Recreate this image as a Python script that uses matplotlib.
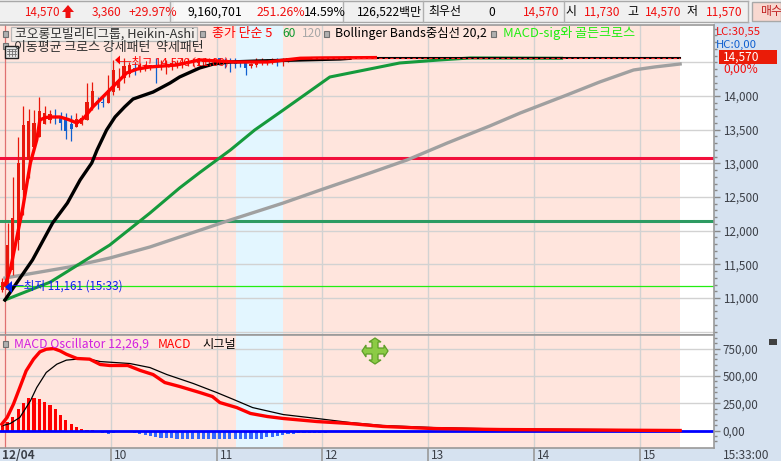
import numpy as np
import matplotlib
matplotlib.use("Agg")
import matplotlib.pyplot as plt
from matplotlib.patches import Rectangle, Polygon
from matplotlib.transforms import ScaledTranslation

plt.rcParams['font.family'] = ['Noto Sans CJK KR', 'DejaVu Sans']

W, H = 781, 461

# ---------- data (time in hours of the day) ----------
candle_high = [11300,12110,12800,13390,13850,13810,13790,13990,13850,13790,13810,13760,13750,13720,13750,13720,14190,14210,13990,13990,14310,14530,14420,14570,14500,14490,14490,14480,14460,14570,14530,14530,14530,14530,14560,14560,14570,14560,14560,14560,14560,14570,14570,14560,14560,14530,14500,14490,14560,14560,14550,14560,14560,14560,14570]
candle_low  = [11090,11120,11340,11710,12230,12780,13240,13390,13580,13600,13580,13500,13360,13330,13540,13570,13640,13790,13810,13840,13900,14010,14090,14190,14280,14310,14360,14370,14390,14190,14390,14330,14390,14420,14420,14450,14450,14460,14460,14480,14480,14460,14420,14360,14420,14430,14310,14420,14430,14460,14460,14480,14450,14450,14500]
candle_top  = [11240,11790,12190,13000,13570,13630,13600,13780,13750,13730,13690,13690,13660,13580,13660,13670,13910,14070,13930,13910,14090,14390,14190,14450,14460,14420,14460,14460,14460,14460,14460,14460,14490,14490,14500,14520,14530,14530,14530,14530,14530,14560,14530,14530,14500,14500,14490,14480,14500,14520,14530,14530,14530,14550,14560]
candle_bot  = [11120,11120,11420,11860,12600,13050,13240,13390,13580,13640,13670,13600,13480,13510,13540,13580,13640,13840,13900,13900,13900,14060,14120,14270,14330,14390,14420,14420,14420,14430,14430,14430,14450,14450,14460,14480,14490,14490,14500,14500,14500,14500,14500,14490,14480,14490,14420,14450,14460,14490,14490,14500,14520,14500,14530]
candle_up   = [1,1,1,1,1,1,1,1,1,1,0,0,0,0,1,1,1,1,0,0,1,1,1,1,1,0,1,1,1,0,1,1,1,1,1,1,1,1,1,1,1,0,0,0,0,0,0,1,1,1,1,1,0,1,1]

ma5_t = [9.0,9.05,9.17,9.24,9.30,9.33,9.38,9.43,9.52,9.60,9.68,9.75,9.83,9.99,10.15,10.25,10.37,10.62,10.84,11.16,11.48,11.79,12.0,12.5]
ma5_v = [11193,11416,12352,13005,13347,13644,13680,13688,13688,13650,13599,13680,13837,14089,14342,14400,14431,14460,14535,14505,14505,14560,14565,14570]

ma60_t = [9.0,9.11,9.26,9.45,9.59,9.71,9.82,9.87,9.96,10.04,10.13,10.21,10.40,10.56,10.65,10.84,10.97,11.13,11.41,11.79,12.17,12.26]
ma60_v = [10971,11223,11565,12114,12411,12753,13005,13198,13495,13688,13837,13955,14059,14193,14282,14416,14475,14505,14520,14535,14550,14560]

close_t = [11.9,15.38]
close_v = [14570,14570]

green_t = [9.0,9.43,9.99,10.37,10.65,10.84,11.13,11.36,11.63,12.07,12.73,13.11,13.40,14.26]
green_v = [10971,11238,11787,12262,12634,12863,13198,13495,13792,14282,14490,14535,14565,14560]

gray_t = [9.0,9.61,9.99,10.37,11.13,11.63,11.98,12.45,12.80,13.18,13.58,13.87,14.31,14.62,14.94,15.14,15.38]
gray_v = [11297,11461,11594,11758,12159,12411,12604,12857,13050,13302,13554,13748,14015,14208,14386,14431,14475]

level_red = 13079
level_green = 12144
level_low = 11178

macd_t = [8.97,9.02,9.08,9.14,9.20,9.27,9.33,9.39,9.46,9.52,9.58,9.68,9.80,9.90,9.99,10.16,10.28,10.40,10.51,10.65,10.84,10.96,11.03,11.19,11.32,11.48,11.63,11.95,12.26,12.57,13.05,13.68,15.38]
macd_v = [58,119,241,393,546,653,720,744,750,729,698,659,653,604,595,595,549,512,439,403,348,311,256,210,156,128,110,82,64,37,18,9,0]

signal_t = [8.97,9.05,9.14,9.24,9.30,9.39,9.49,9.58,9.68,9.80,9.90,10.18,10.37,10.53,10.78,11.00,11.16,11.34,11.63,11.95,12.26,12.57,13.05,13.68,15.38]
signal_v = [43,64,119,271,393,531,607,644,653,653,631,613,576,512,430,348,284,210,146,110,73,46,27,14,5]

osc_v = [37,79,128,195,256,293,293,287,262,232,195,140,98,58,34,18,9,6,
         -3,-27,-34,-24,-12,-12,-18,-24,-34,-43,-49,-58,-67,-70,-73,-76,-76,-76,-76,-76,-76,-76,-76,-76,-79,-79,-79,-76,-79,-79,-79,-76,
         -61,-55,-46,-40,-34,-30,-25,-24,-22,-21,-20,-19,-18,-17,-16,-15,-14,-12,-11,-9,-7,-6,-5,-4,-3,-3,-2]

main_ticks = [11000,11500,12000,12500,13000,13500,14000]
main_labels = ['11,000','11,500','12,000','12,500','13,000','13,500','14,000']
macd_ticks = [0,250,500,750]
macd_labels = ['0,00','250,00','500,00','750,00']
hour_ticks = [9,10,11,12,13,14,15]
hour_labels = ['12/04','10','11','12','13','14','15']

# ---------- colours ----------
PINK = '#FFE5DD'; SKY = '#E3F6FF'; PANEL = '#D6E2F0'; GRID = '#D2D2D2'; AXC = '#999999'
TXT = '#3C4048'; RED = '#FF0000'; CRED = '#E8180C'; CBLUE = '#1060D0'

fig = plt.figure(figsize=(W/100, H/100), dpi=100, facecolor='white')

def box(x0, y0, x1, y1):
    return [x0/W, 1-y1/H, (x1-x0)/W, (y1-y0)/H]

# background panels behind the plotting axes
bg = fig.add_axes([0, 0, 1, 1], zorder=0)
bg.set_xlim(0, W); bg.set_ylim(H, 0); bg.axis('off')
bg.add_patch(Rectangle((714, 22), 67, 439, color=PANEL, lw=0))
bg.add_patch(Rectangle((0, 448), 781, 13, color=PANEL, lw=0))
bg.add_patch(Rectangle((0, 0), 781, 22, color='#F0F0F0', lw=0))

XLIM = (8.953, 15.70)
ax = fig.add_axes(box(0, 25, 714, 335), zorder=1)
ax2 = fig.add_axes(box(0, 335, 714, 448), zorder=1)

for a in (ax, ax2):
    a.set_xlim(*XLIM)
    a.set_facecolor('white')
    a.axvspan(XLIM[0], 15.38, color=PINK, lw=0, zorder=0)
    a.axvspan(11.18, 11.63, color=SKY, lw=0, zorder=0.1)
    for h in hour_ticks[1:]:
        a.axvline(h, color=GRID, lw=1.0, zorder=0.5)
    a.axvline(9.0, color='#E07070', lw=0.9, zorder=0.6)
    a.yaxis.tick_right()
    a.tick_params(axis='y', which='major', direction='out', length=4.3, width=1, color='#888888',
                  labelcolor=TXT, labelsize=8.4, pad=2)
    a.tick_params(axis='y', which='minor', direction='out', length=2.2, width=1, color='#888888')
    for s in a.spines.values():
        s.set_color(AXC); s.set_linewidth(1.2)
    a.spines['left'].set_visible(False)

# ---------- main pane ----------
ax.set_ylim(10451, 15054)
ax.set_yticks(main_ticks)
ax.set_yticklabels(main_labels)
ax.set_yticks(np.arange(10500, 15001, 100), minor=True)
ax.set_xticks([])
for v in main_ticks + [14500, 10500]:
    ax.axhline(v, color=GRID, lw=1.0, zorder=0.5)

ax.axhline(level_low, color='#22EE11', lw=0.9, zorder=1)
ax.axhline(level_red, color='#F2103C', lw=2.2, zorder=1.2)
ax.axhline(level_green, color='#2E9B62', lw=2.2, zorder=1.2)

ax.plot(gray_t, gray_v, color='#A0A0A0', lw=2.4, zorder=2)
ax.plot(green_t, green_v, color='#159A3C', lw=2.2, zorder=2.1)

candle_t = 8.975 + 0.05*np.arange(len(candle_high))
up = np.array(candle_up, bool)
ccol = [CRED if u else CBLUE for u in up]
ax.vlines(candle_t, candle_low, candle_high, colors=ccol, lw=0.9, zorder=3)
ax.bar(candle_t, np.array(candle_top)-np.array(candle_bot), bottom=candle_bot,
       width=0.03, color=ccol, lw=0, zorder=3)

ax.plot(ma60_t, ma60_v, color='black', lw=2.4, zorder=4)
ax.plot(close_t, close_v, color='black', lw=1.5, zorder=4)
ax.plot(ma5_t, ma5_v, color=RED, lw=2.4, zorder=5)
ax.plot(close_t, close_v, color='#FF2020', lw=0.8, ls=(0, (3, 2)), zorder=5)

# ---------- MACD pane ----------
ax2.set_ylim(-160, 874)
ax2.set_yticks(macd_ticks)
ax2.set_yticklabels(macd_labels)
ax2.set_yticks(np.arange(-100, 851, 50), minor=True)
for v in macd_ticks[1:]:
    ax2.axhline(v, color=GRID, lw=1.0, zorder=0.5)

osc_t = 8.975 + 0.05*np.arange(len(osc_v))
osc = np.array(osc_v)
ax2.bar(osc_t, osc, width=0.03, color=[RED if v > 0 else '#3366FF' for v in osc], lw=0, zorder=2)
ax2.axhline(0, color='#0000FF', lw=2.0, zorder=2.5)
ax2.plot(signal_t, signal_v, color='black', lw=0.9, zorder=3)
ax2.plot(macd_t, macd_v, color=RED, lw=2.4, zorder=3.5)

ax2.set_xticks(hour_ticks)
ax2.set_xticklabels(hour_labels, ha='left', fontsize=8.6, color=TXT)
ax2.tick_params(axis='x', direction='out', length=9.4, width=1.2, color=AXC, pad=-8.9)
ax2.xaxis.get_major_ticks()[0].tick1line.set_visible(False)
off = ScaledTranslation(3/100, 0, fig.dpi_scale_trans)
for lab in ax2.get_xticklabels():
    lab.set_transform(lab.get_transform() + off)
first = ax2.get_xticklabels()[0]
first.set_fontweight('bold')
first.set_transform(first.get_transform() + ScaledTranslation(-6/100, 0, fig.dpi_scale_trans))

# ---------- overlay: header, legends, annotations ----------
ov = fig.add_axes([0, 0, 1, 1], zorder=5)
ov.set_xlim(0, W); ov.set_ylim(H, 0); ov.axis('off'); ov.patch.set_alpha(0)

def t(x, y, s, c='black', fs=9.0, ha='left', **kw):
    ov.text(x, y, s, color=c, fontsize=fs, ha=ha, va='center', **kw)

# header strip
ov.plot([0, 748], [1, 1], color='#A8A8A8', lw=1)
ov.plot([0, 748], [22, 22], color='#A8A8A8', lw=1)
for x in [170, 343, 423, 564, 748]:
    ov.plot([x, x], [1, 22], color='#B0B0B0', lw=1)
ov.add_patch(Rectangle((752, 2), 29, 19, fc='#F8D8D0', ec='#A8A8A8', lw=1))
ov.add_patch(Rectangle((174, 2), 169, 19, fc='#F8F8F8', ec='none'))
H_R = '#F01010'
t(24, 12, '14,570', H_R, 8.4)
ov.add_patch(Polygon([(62, 12), (68, 5), (74, 12), (70.5, 12), (70.5, 18), (65.5, 18), (65.5, 12)], fc=H_R, ec='none'))
t(92, 12, '3,360', H_R, 8.6)
t(128, 12, '+29.97%', H_R, 8.8)
t(187, 12, '9,160,701', 'black', 8.8)
t(257, 12, '251.26%', H_R, 8.8)
t(304, 12, '14.59%', 'black', 8.8)
t(357, 12, '126,522백만', 'black', 8.6)
t(428, 12, '최우선', 'black', 8.6)
t(488, 12, '0', 'black', 8.6)
t(523, 12, '14,570', H_R, 8.6)
t(566, 12, '시', 'black', 8.6)
t(584, 12, '11,730', H_R, 8.6)
t(627, 12, '고', 'black', 8.6)
t(645, 12, '14,570', H_R, 8.6)
t(687, 12, '저', 'black', 8.6)
t(706, 12, '11,570', H_R, 8.6)
t(760, 12, '매수', '#C02020', 8.6)

def sq(x, y):
    ov.add_patch(Rectangle((x-2, y-3), 4.5, 6, fc='#B0B0B0', ec='#707070', lw=0.8))

# legends
sq(5, 34)
ov.add_patch(Rectangle((11, 27), 186, 14.5, fc='#F2EEEA', ec='#B8B8B8', lw=0.9))
t(15, 33.5, '코오롱모빌리티그룹, Heikin-Ashi', '#303030', 9.2)
sq(202, 34)
t(212, 33.5, '종가 단순 5', RED, 9.3)
t(282, 33.5, '60', '#109A30', 8.6)
t(302, 33.5, '120', '#A8A8A8', 8.6)
sq(326, 34)
t(335, 33.5, 'Bollinger Bands중심선 20,2', 'black', 8.9)
sq(493, 34)
t(503, 33.5, 'MACD-sig와 골든크로스', '#22EE11', 9.4)
sq(5, 46)
t(14, 48, '이동평균 크로스 강세패턴  약세패턴', '#303030', 9.3)

# grid icon
ov.add_patch(Rectangle((5, 46), 13, 12, fc='#E8E8E8', ec='#202020', lw=1))
for x in (8.5, 11.5, 14.5):
    ov.plot([x, x], [49, 56], color='#707070', lw=0.6)
for y in (49, 51.5, 54):
    ov.plot([7, 16], [y, y], color='#707070', lw=0.6)

# annotations
ov.add_patch(Polygon([(115, 60), (120, 55.5), (120, 64.5)], fc=RED, ec='none'))
t(120, 61.5, '─최고 14,570 (11:00)', RED, 8.2)
ov.add_patch(Polygon([(5, 287), (12, 281), (12, 293)], fc='#0020F0', ec='none'))
t(12, 286, '─최저 11,161 (15:33)', '#1020F0', 8.4)
t(14, 344, 'MACD Oscillator 12,26,9', '#D020E0', 8.8)
sq(5, 344)
t(158, 344, 'MACD', RED, 8.8)
t(202, 344, '시그널', 'black', 8.8)

# green move icon
cx, cy = 375, 351
a = 3; b = 9; c = 7; d = 13
arrow = [(cx-a,cy-a),(cx-a,cy-b),(cx-c+1,cy-b),(cx,cy-d),(cx+c-1,cy-b),(cx+a,cy-b),(cx+a,cy-a),
         (cx+b,cy-a),(cx+b,cy-c+1),(cx+d,cy),(cx+b,cy+c-1),(cx+b,cy+a),(cx+a,cy+a),
         (cx+a,cy+b),(cx+c-1,cy+b),(cx,cy+d),(cx-c+1,cy+b),(cx-a,cy+b),(cx-a,cy+a),
         (cx-b,cy+a),(cx-b,cy+c-1),(cx-d,cy),(cx-b,cy-c+1),(cx-b,cy-a)]
ov.add_patch(Polygon(arrow, fc='#8CCB45', ec='#5E9E28', lw=0.9))

# right panel readouts
t(716, 31.5, 'LC:30,55', '#F01010', 8.2)
t(716, 45, 'HC:0,00', '#1060D0', 8.2)
ov.add_patch(Rectangle((719, 50), 58, 14, fc='#EA1C08', ec='none'))
t(723, 57, '14,570', 'white', 8.6)
t(723, 69, '0,00%', '#F01010', 8.6)
ov.add_patch(Rectangle((769, 339), 8, 6, fc='#404040', ec='none'))
t(723, 455, '15:33:00', TXT, 8.6)

fig.savefig('out.png', dpi=100, facecolor='white')
